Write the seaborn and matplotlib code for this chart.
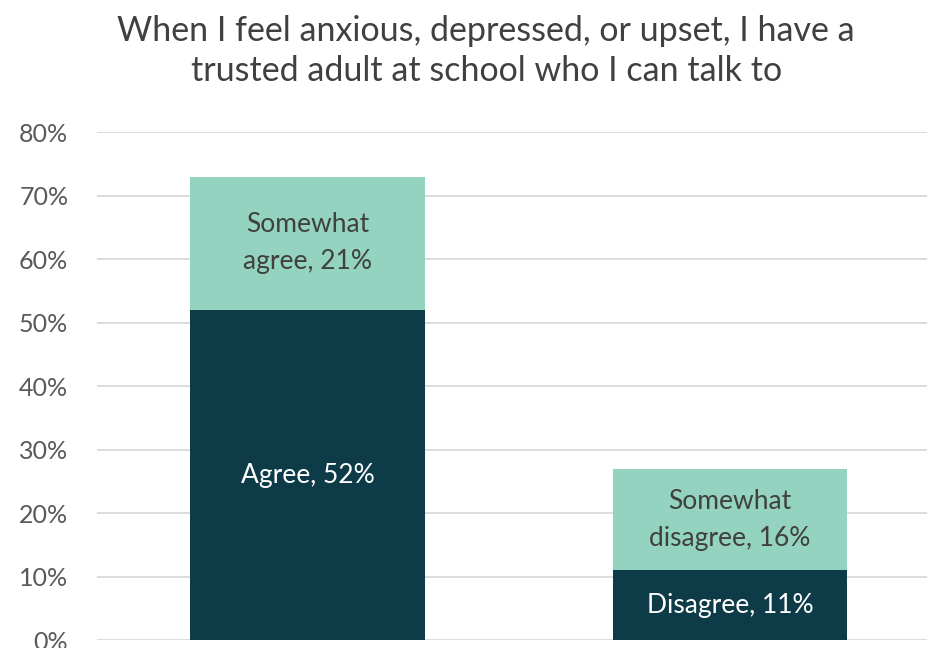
import matplotlib
matplotlib.use("Agg")
import matplotlib.pyplot as plt
import seaborn as sns
import pandas as pd

# Datos
categorias = ["Agree", "Disagree"]
fuerte = [52, 11]           # Agree / Disagree
algo = [21, 16]             # Somewhat agree / Somewhat disagree
etiquetas_fuerte = ["Agree, 52%", "Disagree, 11%"]
etiquetas_algo = ["Somewhat\nagree, 21%", "Somewhat\ndisagree, 16%"]
ticks_y = [0, 10, 20, 30, 40, 50, 60, 70, 80]

sns.set_theme(style="white")
plt.rcParams['font.family'] = ['Lato', 'DejaVu Sans']

color_oscuro = "#0d3b47"
color_claro = "#93d3bf"

df = pd.DataFrame({"cat": categorias, "fuerte": fuerte, "algo": algo})
df["total"] = df["fuerte"] + df["algo"]

fig = plt.figure(figsize=(9.28, 6.48), dpi=100)
ax = fig.add_axes([0.105, 0.012, 0.895, 0.784])

# barras apiladas: total (claro) y debajo la parte fuerte (oscuro)
sns.barplot(data=df, x="cat", y="total", color=color_claro, saturation=1,
            width=0.556, ax=ax, zorder=2)
sns.barplot(data=df, x="cat", y="fuerte", color=color_oscuro, saturation=1,
            width=0.556, ax=ax, zorder=3)
for p in ax.patches:
    p.set_edgecolor("none")
    p.set_alpha(1)

for i in range(len(categorias)):
    ax.text(i, fuerte[i] / 2, etiquetas_fuerte[i], ha="center", va="center",
            color="white", fontsize=19, zorder=4)
    ax.text(i, fuerte[i] + algo[i] / 2, etiquetas_algo[i], ha="center", va="center",
            color="#404040", fontsize=19, linespacing=1.6, zorder=4)

ax.set_ylim(0, 80)
ax.set_xlim(-0.498, 1.469)
ax.set_yticks(ticks_y)
ax.set_yticklabels([f"{t}%" for t in ticks_y], fontsize=18, color="#595959")
ax.set_xticks([])
ax.set_xlabel("")
ax.set_ylabel("")
ax.tick_params(axis="y", length=0, pad=21)
ax.grid(axis="y", color="#d9d9d9", linewidth=1.3, zorder=0)
ax.set_axisbelow(True)
sns.despine(ax=ax, left=True, bottom=True)

fig.text(0.524, 0.921,
         "When I feel anxious, depressed, or upset, I have a\ntrusted adult at school who I can talk to",
         ha="center", va="center", fontsize=24.5, color="#404040", linespacing=1.32)

fig.savefig("out.png", dpi=100)
